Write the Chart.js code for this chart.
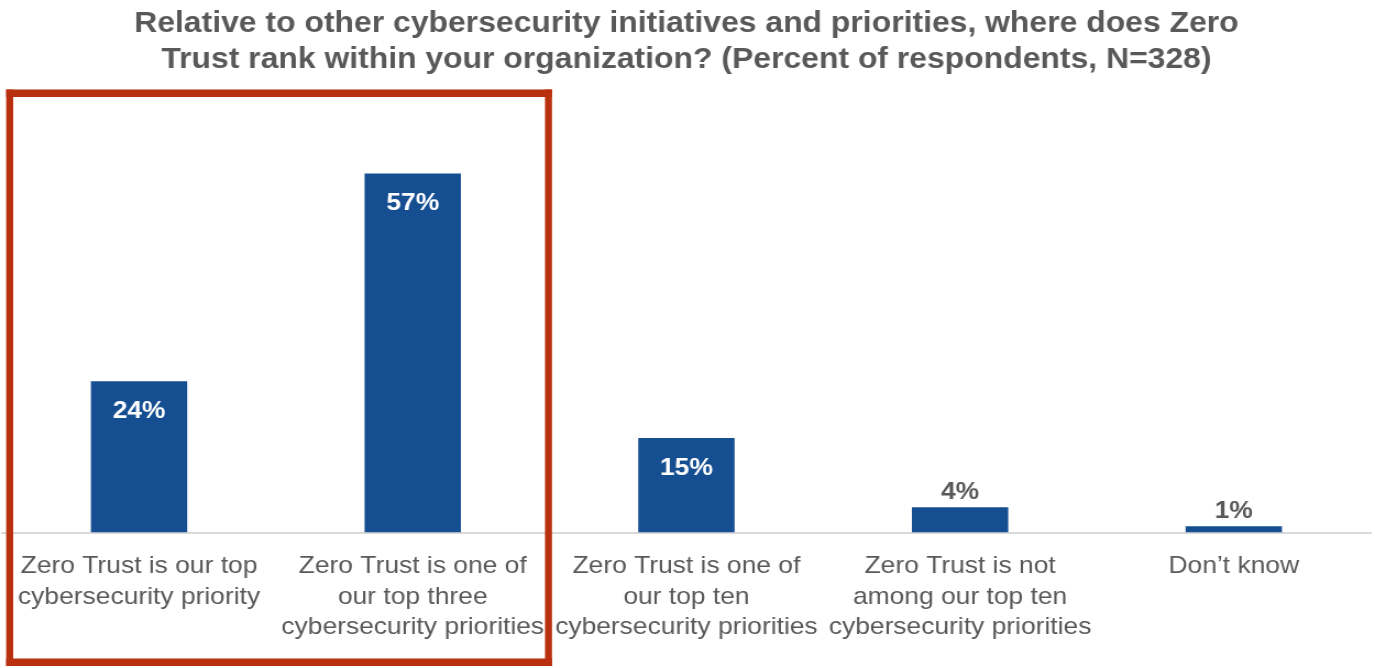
<!DOCTYPE html>
<html>
<head>
<meta charset="utf-8">
<script src="https://cdn.jsdelivr.net/npm/chart.js@4/dist/chart.umd.min.js"></script>
<style>
  html, body { margin: 0; padding: 0; background: #ffffff; overflow: hidden; }
  /* The drawing is laid out on a 1250px-wide canvas and shown 10% wider */
  #c { display: block; width: 1375px !important; height: 668px !important; }
</style>
</head>
<body>
<canvas id="c" width="1250" height="668"></canvas>
<script>
// Survey answers, one per bar
const categories = [
  ["Zero Trust is our top", "cybersecurity priority"],
  ["Zero Trust is one of", "our top three", "cybersecurity priorities"],
  ["Zero Trust is one of", "our top ten", "cybersecurity priorities"],
  ["Zero Trust is not", "among our top ten", "cybersecurity priorities"],
  ["Don\u2019t know"]
];
// Percent of respondents
const percents = [24, 57, 15, 4, 1];
// Title lines
const titleLines = [
  "Relative to other cybersecurity initiatives and priorities, where does Zero",
  "Trust rank within your organization? (Percent of respondents, N=328)"
];
// Categories enclosed by the highlight frame
const highlighted = [0, 1];

const FONT = "'Liberation Sans', Arial, sans-serif";
const GREY = "#595959";
const BLUE = "#154e91";
const RED = "#b8300e";

// Value labels: inside the bar near its top when it fits, otherwise above it
const valueLabels = {
  id: "valueLabels",
  afterDatasetsDraw(chart) {
    const ctx = chart.ctx;
    const meta = chart.getDatasetMeta(0);
    ctx.save();
    ctx.font = "bold 24px " + FONT;
    ctx.textAlign = "center";
    ctx.textBaseline = "middle";
    meta.data.forEach((bar, i) => {
      const h = bar.base - bar.y;
      const text = percents[i] + "%";
      if (h > 60) {
        ctx.fillStyle = "#ffffff";
        ctx.fillText(text, bar.x, bar.y + 30);
      } else {
        ctx.fillStyle = GREY;
        ctx.fillText(text, bar.x, bar.y - 14.5);
      }
    });
    ctx.restore();
  }
};

// Red frame around the highlighted categories, placed from the category boundaries
const highlightFrame = {
  id: "highlightFrame",
  afterDraw(chart) {
    const x = chart.scales.x;
    const step = x.getPixelForValue(1) - x.getPixelForValue(0);
    const first = Math.min(...highlighted), last = Math.max(...highlighted);
    const left = x.getPixelForValue(first) - step / 2 + 3.6;
    const right = x.getPixelForValue(last) + step / 2 + 2.2;
    const top = chart.chartArea.top - 65;
    const bottom = chart.height - 2;
    const vw = 6.4;  // side thickness (shown ~7px wide)
    const hw = 7.5;  // top/bottom thickness
    const ctx = chart.ctx;
    ctx.save();
    ctx.fillStyle = RED;
    ctx.fillRect(left, top, right - left, hw);
    ctx.fillRect(left, bottom - hw, right - left, hw);
    ctx.fillRect(left, top, vw, bottom - top);
    ctx.fillRect(right - vw, top, vw, bottom - top);
    ctx.restore();
  }
};

new Chart(document.getElementById("c"), {
  type: "bar",
  data: {
    labels: categories,
    datasets: [{
      data: percents,
      backgroundColor: BLUE,
      borderWidth: 0,
      categoryPercentage: 1.0,
      barPercentage: 0.352
    }]
  },
  options: {
    responsive: false,
    devicePixelRatio: 1,
    animation: false,
    layout: { padding: { left: 2, right: 4, top: 0, bottom: 6 } },
    plugins: {
      legend: { display: false },
      tooltip: { enabled: false },
      title: {
        display: true,
        text: titleLines,
        color: GREY,
        font: { family: FONT, size: 29, weight: "bold", lineHeight: 1.25 },
        padding: { top: 6, bottom: 76 }
      }
    },
    scales: {
      x: {
        // let the first label overhang the plot edge instead of indenting it
        afterFit(scale) { scale.paddingLeft = 0; scale.paddingRight = 0; },
        grid: { display: false, drawTicks: false },
        border: { display: true, color: "#d9d9d9", width: 2 },
        ticks: {
          color: GREY,
          font: { family: FONT, size: 24, lineHeight: 1.27 },
          maxRotation: 0,
          minRotation: 0,
          autoSkip: false,
          padding: 19
        }
      },
      y: {
        display: false,
        min: 0,
        max: 60
      }
    }
  },
  plugins: [valueLabels, highlightFrame]
});
</script>
</body>
</html>
